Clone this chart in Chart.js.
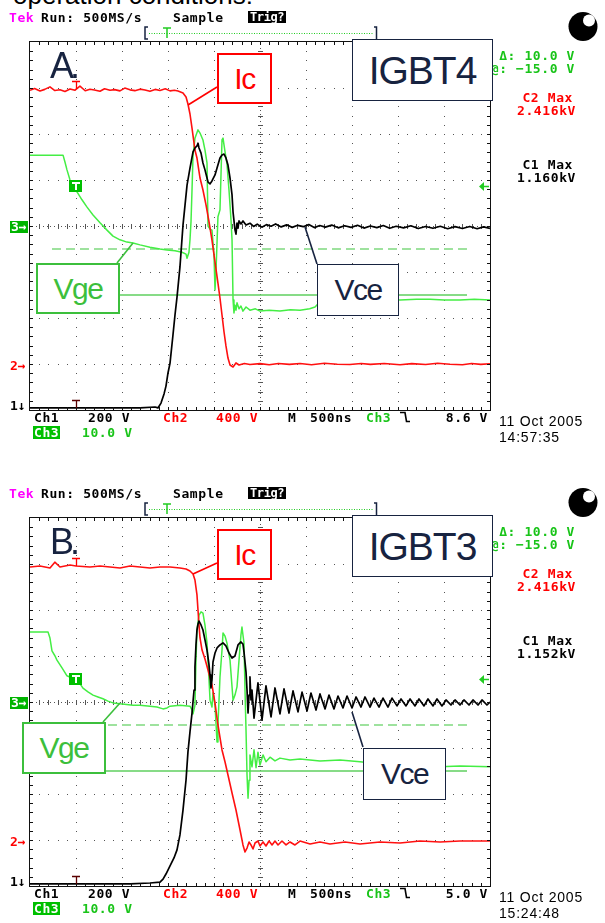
<!DOCTYPE html>
<html><head><meta charset="utf-8">
<script src="https://cdn.jsdelivr.net/npm/chart.js"></script>
<style>
html,body{margin:0;padding:0;background:#fff;}
#wrap{position:relative;width:605px;height:923px;overflow:hidden;background:#fff}
canvas{position:absolute;left:0}
.t{position:absolute;white-space:nowrap;font-family:"DejaVu Sans Mono",monospace;font-weight:bold;font-size:13px;line-height:13px;letter-spacing:0.6px}
.d{position:absolute;white-space:nowrap;font-family:"Liberation Sans",Arial,sans-serif;font-size:14px;line-height:14px;letter-spacing:0.8px;color:#000}
.box{position:absolute;box-sizing:border-box;background:#fff;display:flex;align-items:center;justify-content:center;font-family:"Liberation Sans",Arial,sans-serif;line-height:1;white-space:nowrap}
.big{position:absolute;font-family:"Liberation Sans",Arial,sans-serif;white-space:nowrap}
#ov{position:absolute;left:0;top:0}
</style></head>
<body><div id="wrap">
<div class="big" style="left:13px;top:-18px;font-size:26px;line-height:26px;color:#000">operation conditions:</div>
<canvas id="cA" width="605" height="476" style="top:0"></canvas>
<canvas id="cB" width="605" height="476" style="top:476px"></canvas>
<svg id="ov" width="605" height="923" xmlns="http://www.w3.org/2000/svg"></svg>
</div>
<script>
// ---------------- DATA (time in ns relative to trigger; Ch1 Vce [V], Ch2 Ic probe [V], Ch3 Vge [V]) ----------------
const panelLetters = ["A.", "B."];
const deviceNames = ["IGBT4", "IGBT3"];
const c2MaxText = ["2.416kV", "2.416kV"];
const c1MaxText = ["1.160kV", "1.152kV"];
const trigLevels = [8.6, 5.0];
const trigText = ["8.6 V", "5.0 V"];
const dateText = ["11 Oct 2005", "11 Oct 2005"];
const timeText = ["14:57:35", "15:24:48"];
const cursorLevels = [-5, -15];
const cursorSpan = [-261, 4250];

const vceA = [[-500,9],[-300,9],[-100,9],[100,9],[300,9],[500,9],[696,9],[859,13],[891,9],[924,30],[957,70],[978,104],[1000,161],[1022,204],[1054,326],[1076,413],[1098,491],[1130,622],[1163,804],[1185,891],[1207,978],[1239,1052],[1272,1122],[1293,1139],[1315,1148],[1326,1160],[1337,1139],[1359,1117],[1380,1074],[1402,1044],[1435,991],[1457,983],[1478,996],[1511,1022],[1533,1052],[1565,1096],[1587,1109],[1609,1113],[1630,1096],[1652,1065],[1674,1009],[1696,935],[1707,861],[1728,783],[1739,765],[1750,813],[1761,791],[1772,822],[1793,809],[1815,822],[1848,804],[1891,812],[1930,798],[1970,808],[2020,795],[2070,806],[2120,799],[2170,809],[2230,796],[2290,805],[2350,794],[2410,803],[2470,797],[2530,806],[2590,793],[2650,802],[2710,795],[2780,804],[2850,792],[2920,801],[2990,794],[3060,803],[3130,791],[3200,800],[3270,793],[3340,802],[3410,790],[3480,799],[3560,792],[3640,801],[3720,789],[3800,798],[3880,790],[3960,799],[4040,788],[4120,797],[4200,789],[4280,798],[4360,788],[4430,796],[4500,790]];

const icA = [[-500,2380],[-450,2395],[-391,2374],[-340,2388],[-283,2410],[-230,2378],[-174,2385],[-120,2370],[-65,2392],[-10,2381],[43,2416],[100,2376],[152,2389],[200,2383],[261,2372],[310,2394],[370,2380],[420,2386],[478,2375],[530,2399],[587,2384],[640,2377],[696,2390],[750,2382],[804,2371],[860,2388],[913,2379],[970,2393],[1022,2375],[1070,2380],[1109,2374],[1163,2357],[1196,2322],[1217,2261],[1239,2174],[1261,2052],[1293,1861],[1315,1791],[1348,1617],[1380,1513],[1413,1383],[1446,1235],[1478,1078],[1511,887],[1543,704],[1565,574],[1587,426],[1609,278],[1630,157],[1652,52],[1674,-9],[1707,-26],[1739,9],[1772,-9],[1830,4],[1891,-5],[2000,3],[2100,-6],[2200,5],[2320,-3],[2435,4],[2560,-6],[2700,6],[2840,-2],[2978,-5],[3100,4],[3200,-3],[3350,5],[3522,-6],[3650,3],[3800,-4],[3930,6],[4065,-2],[4200,-7],[4300,5],[4400,-3],[4500,2]];

const vgeA = [[-500,15.4],[-337,15.4],[-141,15.4],[-120,13.9],[-98,12.2],[-65,10.0],[-33,8.5],[11,7.4],[65,5.7],[120,4.1],[185,2.4],[261,0.7],[337,-0.9],[402,-2.2],[478,-3.0],[554,-3.5],[620,-3.7],[696,-4.1],[804,-4.6],[913,-5.0],[989,-5.2],[1076,-5.4],[1152,-5.7],[1196,-6.1],[1207,-7.0],[1228,-5.7],[1239,-3.0],[1250,0.9],[1261,7.8],[1272,15.4],[1293,19.1],[1326,20.9],[1348,20.2],[1380,18.7],[1402,16.5],[1424,13.7],[1435,0.0],[1457,-0.7],[1478,-0.9],[1500,-6.3],[1511,-13.9],[1522,-9.6],[1543,2.0],[1565,3.5],[1587,18.7],[1598,19.1],[1620,16.1],[1641,13.5],[1663,7.8],[1685,1.3],[1696,-3.0],[1707,-16.1],[1717,-18.9],[1728,-17.2],[1739,-18.3],[1750,-16.7],[1772,-18.0],[1793,-17.4],[1815,-18.5],[1848,-17.6],[1891,-18.3],[1950,-18.0],[2000,-18.5],[2100,-18.3],[2217,-18.5],[2330,-18.2],[2435,-18.3],[2540,-18.0],[2598,-17.6],[2652,-16.5],[2760,-16.3],[2870,-16.3],[3000,-16.0],[3150,-16.2],[3304,-16.1],[3420,-15.9],[3522,-16.1],[3700,-15.9],[3848,-15.9],[4000,-16.1],[4174,-16.1],[4330,-15.9],[4500,-16.1]];

const vceB = [[-500,9],[-174,9],[261,9],[587,9],[804,13],[913,17],[946,30],[978,52],[1022,87],[1065,122],[1098,157],[1130,222],[1163,330],[1196,461],[1217,583],[1239,670],[1261,752],[1283,852],[1293,952],[1304,1048],[1315,1113],[1326,1139],[1337,1152],[1359,1135],[1380,1113],[1402,1070],[1424,1026],[1446,961],[1457,917],[1467,861],[1478,896],[1489,974],[1511,1013],[1533,1035],[1565,1048],[1598,1057],[1630,1044],[1663,1013],[1696,991],[1728,1000],[1761,1048],[1793,1061],[1815,1052],[1826,1017],[1848,930],[1859,852],[1870,752],[1881,830],[1891,909],[1902,809],[1913,852],[1935,730],[1978,883],[2022,722],[2065,870],[2120,735],[2163,861],[2217,748],[2261,857],[2315,752],[2359,848],[2413,757],[2457,843],[2511,761],[2554,839],[2609,765],[2652,835],[2707,770],[2750,830],[2804,770],[2848,826],[2902,774],[2946,826],[3000,774],[3044,822],[3098,778],[3141,822],[3196,778],[3239,817],[3294,778],[3337,817],[3391,778],[3435,817],[3489,783],[3533,813],[3587,783],[3631,813],[3685,783],[3728,813],[3783,783],[3826,813],[3881,783],[3924,813],[3978,783],[4022,809],[4076,787],[4120,809],[4174,787],[4217,809],[4272,787],[4315,809],[4370,787],[4413,809],[4467,787],[4500,800]];

const icB = [[-500,2374],[-391,2383],[-283,2365],[-230,2416],[-174,2374],[-65,2391],[0,2383],[152,2374],[261,2383],[370,2374],[478,2365],[587,2383],[696,2374],[804,2365],[913,2374],[1022,2374],[1130,2365],[1196,2357],[1239,2339],[1272,2313],[1293,2261],[1315,2131],[1326,2000],[1337,1870],[1348,1757],[1370,1652],[1402,1574],[1435,1478],[1478,1348],[1511,1191],[1543,1000],[1587,783],[1620,678],[1652,565],[1696,409],[1739,261],[1783,87],[1815,-43],[1837,-104],[1859,-70],[1881,-17],[1902,-43],[1924,-78],[1946,-26],[1978,-9],[2000,-52],[2033,-17],[2065,-52],[2098,-9],[2131,-43],[2163,-9],[2196,-43],[2239,-9],[2283,-43],[2326,-17],[2380,-43],[2435,-9],[2544,-35],[2652,-17],[2761,-35],[2924,-17],[3087,-35],[3304,-17],[3522,-26],[3739,-9],[3957,-17],[4174,-9],[4500,-9]];

const vgeB = [[-500,15.2],[-391,15.2],[-304,15.2],[-283,13.9],[-261,11.1],[-228,10.0],[-207,9.1],[-152,7.4],[-98,5.7],[-43,5.2],[22,4.6],[76,3.0],[130,2.2],[185,1.5],[239,1.1],[293,0.7],[348,0.2],[402,-0.2],[478,-0.4],[620,-0.7],[696,-0.7],[804,-0.9],[880,-1.1],[946,-1.5],[989,-1.3],[1022,-0.9],[1130,-0.7],[1239,-0.9],[1261,-1.7],[1272,-2.6],[1293,-0.7],[1304,9.1],[1315,15.7],[1337,18.9],[1359,19.6],[1380,19.3],[1402,16.7],[1424,12.8],[1446,4.8],[1457,0.4],[1478,-1.1],[1489,2.0],[1511,-0.7],[1533,-8.7],[1543,-5.0],[1565,5.4],[1587,11.3],[1598,15.0],[1620,14.3],[1641,12.8],[1674,9.1],[1707,0.4],[1728,1.5],[1750,3.3],[1772,9.1],[1793,14.6],[1804,16.3],[1826,12.8],[1837,2.6],[1848,-6.1],[1859,-15.9],[1870,-20.9],[1881,-17.0],[1891,-11.5],[1913,-14.1],[1935,-10.4],[1957,-14.3],[1978,-10.9],[2000,-13.7],[2033,-11.5],[2065,-13.0],[2109,-12.0],[2163,-12.8],[2217,-12.2],[2326,-12.6],[2435,-12.4],[2652,-12.8],[2870,-12.6],[3087,-13.0],[3304,-13.5],[3522,-13.7],[3739,-13.9],[3957,-14.1],[4174,-13.9],[4500,-14.1]];

// ---------------- CHART ----------------
const pts = a => a.map(([x, y]) => ({x, y}));

const gridPlugin = {
  id: 'scopeGrid',
  beforeDatasetsDraw(chart) {
    const {ctx, chartArea: a} = chart;
    const w = a.right - a.left, h = a.bottom - a.top, dx = w / 10, dy = h / 8;
    ctx.save();
    ctx.fillStyle = '#555';
    for (let i = 1; i < 10; i++) {
      if (i === 5) continue;
      const x = Math.round(a.left + i * dx);
      for (let k = 1; k < 40; k++) ctx.fillRect(x, Math.round(a.top + k * dy / 5), 1, 1);
    }
    for (let j = 1; j < 8; j++) {
      if (j === 4) continue;
      const y = Math.round(a.top + j * dy);
      for (let k = 1; k < 50; k++) ctx.fillRect(Math.round(a.left + k * dx / 5), y, 1, 1);
    }
    const cx = Math.round(a.left + 5 * dx), cy = Math.round(a.top + 4 * dy);
    for (let k = 1; k < 200; k += 1) if (k % 2) ctx.fillRect(cx, Math.round(a.top + k * dy / 25), 1, 1);
    for (let k = 1; k < 250; k += 1) if (k % 2) ctx.fillRect(Math.round(a.left + k * dx / 25), cy, 1, 1);
    for (let k = 1; k < 40; k++) ctx.fillRect(cx - 2, Math.round(a.top + k * dy / 5), 5, 1);
    for (let k = 1; k < 50; k++) ctx.fillRect(Math.round(a.left + k * dx / 5), cy - 2, 1, 5);
    ctx.restore();
  }
};

const markerPlugin = {
  id: 'markers',
  afterDatasetsDraw(chart, args, o) {
    const {ctx, chartArea: a, scales: s} = chart;
    const w = a.right - a.left, h = a.bottom - a.top, dx = w / 10, dy = h / 8;
    ctx.save();
    ctx.fillStyle = '#111';
    ctx.fillRect(a.left - 1, a.top - 1, w + 2, 1);
    ctx.fillRect(a.left - 1, a.bottom, w + 2, 1);
    ctx.fillRect(a.left - 1, a.top - 1, 1, h + 2);
    ctx.fillRect(a.right, a.top - 1, 1, h + 2);
    for (let k = 1; k < 50; k++) {
      const x = Math.round(a.left + k * dx / 5);
      ctx.fillRect(x, a.top, 1, 3); ctx.fillRect(x, a.bottom - 3, 1, 3);
    }
    for (let k = 1; k < 40; k++) {
      const y = Math.round(a.top + k * dy / 5);
      ctx.fillRect(a.left, y, 3, 1); ctx.fillRect(a.right - 3, y, 3, 1);
    }
    const x0 = Math.round(s.x.getPixelForValue(0));
    const yt = Math.round(s.yG.getPixelForValue(o.trig));
    ctx.strokeStyle = '#22cc22'; ctx.fillStyle = '#22cc22'; ctx.lineWidth = 1.5;
    ctx.beginPath(); ctx.moveTo(a.right - 1, yt + 0.5); ctx.lineTo(a.right - 7, yt + 0.5); ctx.stroke();
    ctx.beginPath(); ctx.moveTo(a.right - 11, yt + 0.5); ctx.lineTo(a.right - 6, yt - 4); ctx.lineTo(a.right - 6, yt + 5); ctx.closePath(); ctx.fill();
    ctx.fillStyle = '#00c000'; ctx.fillRect(x0 - 7, yt - 6, 13, 12);
    ctx.fillStyle = '#fff'; ctx.fillRect(x0 - 4, yt - 4, 8, 2); ctx.fillRect(x0 - 1, yt - 4, 2, 8);
    const yr = Math.round(s.yI.getPixelForValue(o.icLevel));
    ctx.strokeStyle = '#ff0000'; ctx.lineWidth = 1.3;
    ctx.beginPath(); ctx.moveTo(x0 - 4, yr - 8.5); ctx.lineTo(x0 + 4, yr - 8.5); ctx.moveTo(x0 + 0.5, yr - 8.5); ctx.lineTo(x0 + 0.5, yr - 1); ctx.stroke();
    const yb = Math.round(s.yV.getPixelForValue(0));
    ctx.strokeStyle = '#5a0000';
    ctx.beginPath(); ctx.moveTo(x0 - 4, yb - 9.5); ctx.lineTo(x0 + 4, yb - 9.5); ctx.moveTo(x0 + 0.5, yb - 9.5); ctx.lineTo(x0 + 0.5, yb - 2); ctx.stroke();
    ctx.restore();
  }
};

function makeChart(id, d) {
  return new Chart(document.getElementById(id), {
    type: 'line',
    data: {datasets: [
      {label: 'Vce', data: pts(d.vce), yAxisID: 'yV', borderColor: '#000000', borderWidth: 1.7},
      {label: 'Ic', data: pts(d.ic), yAxisID: 'yI', borderColor: '#ff1010', borderWidth: 1.6},
      {label: 'Vge', data: pts(d.vge), yAxisID: 'yG', borderColor: '#44ee44', borderWidth: 1.5},
      {label: 'cursor1', data: pts(cursorSpan.map(t => [t, cursorLevels[0]])), yAxisID: 'yG', borderColor: '#7fd97f', borderWidth: 1.5, borderDash: [9, 5]},
      {label: 'cursor2', data: pts(cursorSpan.map(t => [t, cursorLevels[1]])), yAxisID: 'yG', borderColor: '#5fcf5f', borderWidth: 1.3}
    ]},
    options: {
      responsive: false, animation: false, events: [], devicePixelRatio: 1,
      layout: {padding: {left: 30, top: 42, right: 115, bottom: 66}},
      elements: {point: {radius: 0}, line: {tension: 0, borderJoinStyle: 'round'}},
      plugins: {legend: {display: false}, tooltip: {enabled: false}, markers: {trig: d.trig, icLevel: d.ic[0][1]}},
      scales: {
        x: {type: 'linear', min: -500, max: 4500, display: false},
        yV: {type: 'linear', min: 0, max: 1600, display: false},
        yI: {type: 'linear', min: -400, max: 2800, display: false},
        yG: {type: 'linear', min: -40, max: 40, display: false}
      }
    },
    plugins: [gridPlugin, markerPlugin]
  });
}

const charts = [
  makeChart('cA', {vce: vceA, ic: icA, vge: vgeA, trig: trigLevels[0]}),
  makeChart('cB', {vce: vceB, ic: icB, vge: vgeB, trig: trigLevels[1]})
];

// ---------------- OVERLAYS (text, boxes) ----------------
const wrap = document.getElementById('wrap');
const NAVY = '#172340', RED = '#ff0000', GREEN = '#19c419', BOXGREEN = '#3cbf3c';
function T(s, x, cy, color, extra) {
  const e = document.createElement('div'); e.className = 't'; e.textContent = s;
  e.style.left = x + 'px'; e.style.top = (cy - 6.3) + 'px'; e.style.color = color;
  if (extra) Object.assign(e.style, extra);
  wrap.appendChild(e); return e;
}
function TR(s, xr, cy, color) { const e = T(s, 0, cy, color); e.style.left = 'auto'; e.style.right = (605 - xr) + 'px'; return e; }
function D(s, x, cy) { const e = document.createElement('div'); e.className = 'd'; e.textContent = s; e.style.left = x + 'px'; e.style.top = (cy - 6.9) + 'px'; wrap.appendChild(e); }
function box(s, r, oy, color, fs, bw, ls) {
  const e = document.createElement('div'); e.className = 'box'; e.textContent = s;
  Object.assign(e.style, {left: r[0] + 'px', top: (r[1] + oy) + 'px', width: (r[2] - r[0]) + 'px', height: (r[3] - r[1]) + 'px',
    border: bw + 'px solid ' + color, color: color, fontSize: fs + 'px', letterSpacing: ls + 'px'});
  wrap.appendChild(e);
}
const layoutPanels = [
  {oy: 0, icBox: [217,53,272,104], icLead: [217,87,188,105], devBox: [352,39,493,101], vgeBox: [36,263,120,314], vgeLead: [117,263,133,243], vceBox: [317,264,399,316], vceLead: [317,264,305,227]},
  {oy: 476, icBox: [217,53,272,104], icLead: [217,87,193,98], devBox: [352,39,493,101], vgeBox: [22,246,106,298], vgeLead: [103,246,120,227], vceBox: [363,272,446,324], vceLead: [363,271,352,236]}
];
let svgStr = '';
layoutPanels.forEach((L, p) => {
  const oy = L.oy, ch = charts[p];
  T('Tek', 9, 17 + oy, '#ff00ff');
  T('Run: 500MS/s', 41, 17 + oy, '#000');
  T('Sample', 173, 17 + oy, '#000');
  T('Trig?', 248, 17 + oy, '#fff', {background: '#000', fontSize: '12px', letterSpacing: '-0.4px', padding: '0 2px', lineHeight: '12px', top: (11 + oy) + 'px'});
  svgStr += `<path d="M148 ${27+oy} H145 V${39+oy} H148" stroke="${NAVY}" stroke-width="1.5" fill="none"/>`;
  svgStr += `<line x1="149" y1="${33.5+oy}" x2="374" y2="${33.5+oy}" stroke="#22cc22" stroke-width="1" stroke-dasharray="1 1.5"/>`;
  svgStr += `<path d="M163 ${28+oy} H171 M167 ${28+oy} V${38+oy}" stroke="#22cc22" stroke-width="1.5" fill="none"/>`;
  svgStr += `<path d="M374 ${27+oy} H376.5 V${40+oy}" stroke="${NAVY}" stroke-width="1.5" fill="none"/>`;
  svgStr += `<circle cx="583" cy="${26.5+oy}" r="14.5" fill="#000"/><circle cx="589" cy="${20.5+oy}" r="6" fill="#fff"/>`;
  TR('\u0394: 10.0 V', 575, 55 + oy, GREEN);
  TR('@: \u221215.0 V', 575, 68 + oy, GREEN);
  TR('C2 Max', 573, 97 + oy, RED);
  TR(c2MaxText[p], 576, 110 + oy, RED);
  TR('C1 Max', 573, 164 + oy, '#000');
  TR(c1MaxText[p], 576, 177 + oy, '#000');
  const yG0 = ch.scales.yG.getPixelForValue(0) + oy, yI0 = ch.scales.yI.getPixelForValue(0) + oy, yV0 = ch.scales.yV.getPixelForValue(0) + oy;
  T('3\u2192', 10, yG0 + 1, '#fff', {background: '#00b400', letterSpacing: '0px', lineHeight: '12px', padding: '0 1px', top: (yG0 - 5) + 'px'});
  T('2\u2192', 10, yI0 + 1, RED, {letterSpacing: '0px'});
  T('1\u2193', 10, yV0 - 5, '#000', {letterSpacing: '0px'});
  T('Ch1', 34, 417 + oy, '#000');
  T('200 V', 88, 417 + oy, '#000');
  T('Ch2', 163, 417 + oy, RED);
  T('400 V', 216, 417 + oy, RED);
  T('M', 288, 417 + oy, '#000');
  T('500ns', 310, 417 + oy, '#000');
  T('Ch3', 366, 417 + oy, GREEN);
  svgStr += `<path d="M400 ${412.5+oy} H405 L406.5 ${421.5+oy} H410" stroke="#000" stroke-width="1.6" fill="none"/>`;
  TR(trigText[p], 488, 417 + oy, '#000');
  T('Ch3', 33, 432 + oy, '#fff', {background: '#00c000', padding: '0 1px'});
  T('10.0 V', 82, 432 + oy, GREEN);
  D(dateText[p], 499, 421 + oy);
  D(timeText[p], 499, 437 + oy);
  svgStr += `<line x1="${L.icLead[0]}" y1="${L.icLead[1]+oy}" x2="${L.icLead[2]}" y2="${L.icLead[3]+oy}" stroke="${RED}" stroke-width="1.6"/>`;
  svgStr += `<line x1="${L.vgeLead[0]}" y1="${L.vgeLead[1]+oy}" x2="${L.vgeLead[2]}" y2="${L.vgeLead[3]+oy}" stroke="${BOXGREEN}" stroke-width="1.6"/>`;
  svgStr += `<line x1="${L.vceLead[0]}" y1="${L.vceLead[1]+oy}" x2="${L.vceLead[2]}" y2="${L.vceLead[3]+oy}" stroke="${NAVY}" stroke-width="1.6"/>`;
  box('Ic', L.icBox, oy, RED, 30, 2, -1.5);
  box(deviceNames[p], L.devBox, oy, NAVY, 39, 1.5, -1);
  box('Vge', L.vgeBox, oy, BOXGREEN, 30, 2, -1.5);
  box('Vce', L.vceBox, oy, NAVY, 30, 1.5, -1.5);
  const big = document.createElement('div'); big.className = 'big'; big.textContent = panelLetters[p];
  Object.assign(big.style, {left: '50px', top: (47.5 + oy) + 'px', fontSize: '36px', lineHeight: '36px', color: NAVY, letterSpacing: '-4px'});
  wrap.appendChild(big);
});
document.getElementById('ov').innerHTML = svgStr;
</script>
</body></html>
